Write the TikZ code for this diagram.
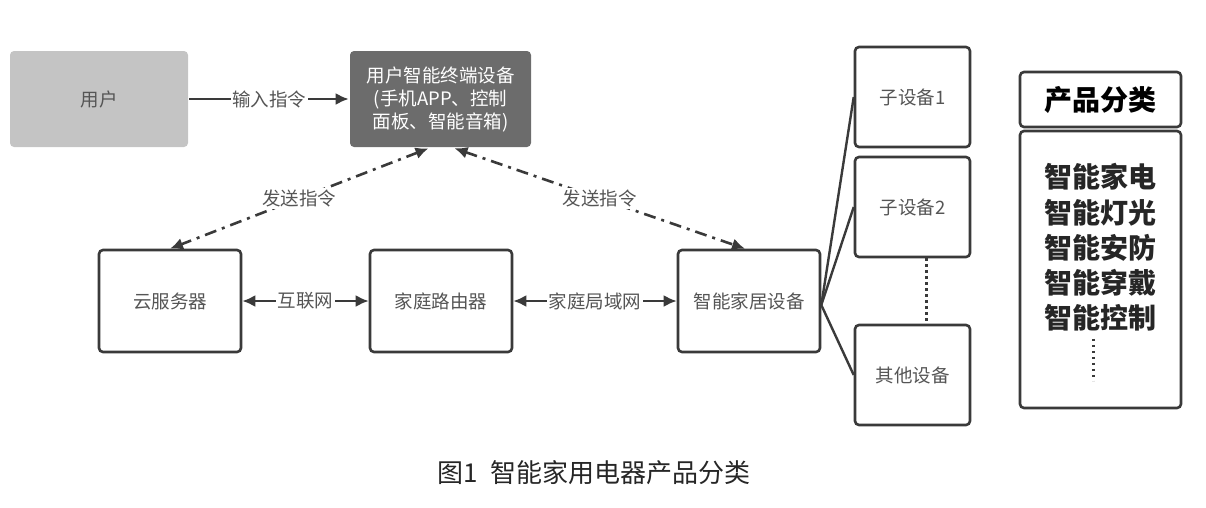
\documentclass[tikz,border=0pt]{standalone}
\usepackage{fontspec}
\setmainfont{Noto Sans CJK SC}
\usepackage{xcolor}
\usetikzlibrary{shapes,arrows,arrows.meta,positioning,calc}
\definecolor{boxline}{RGB}{58,58,58}
\definecolor{boxtext}{RGB}{85,85,85}
\definecolor{userfill}{RGB}{196,196,196}
\definecolor{termfill}{RGB}{108,108,108}

\tikzset{
    box/.style={draw=boxline, line width=2.6pt, rounded corners=4pt, fill=white,
        text=boxtext, inner sep=0pt, font=\fontsize{18.5}{23}\selectfont,
        minimum width=142pt, minimum height=102pt, align=center},
    subbox/.style={box, minimum width=115pt, minimum height=100pt},
    link/.style={line width=2.4pt, boxline},
    cmd/.style={link, line width=2.6pt, dash pattern=on 12pt off 6pt on 3pt off 6pt},
    dots/.style={link, line width=3pt, dash pattern=on 2.5pt off 3.5pt},
    tag/.style={fill=white, text=boxtext, inner sep=1.5pt, font=\fontsize{18.5}{22}\selectfont}
}

\begin{document}
\begin{tikzpicture}[x=1pt, y=-1pt, >={Latex[length=13pt,width=12pt]}]
    \useasboundingbox (0,0) rectangle (1206,507);

    % Top row: user and terminal
    \node[box, draw=none, fill=userfill, minimum width=178pt, minimum height=96pt] (user) at (99,99) {用户};
    \node[box, draw=none, fill=termfill, text=white, minimum width=181pt, minimum height=96pt] (terminal) at (440.5,99) {用户智能终端设备\\(手机APP、控制\\面板、智能音箱)};
    \draw[->, link] (user) -- node[tag] {输入指令} (terminal);

    % Middle row
    \node[box] (cloud) at (170,301) {云服务器};
    \node[box] (router) at (441,301) {家庭路由器};
    \node[box] (home) at (749,301) {智能家居设备};
    \draw[<->, link] (cloud) -- node[tag] {互联网} (router);
    \draw[<->, link] (router) -- node[tag] {家庭局域网} (home);

    % Commands sent from the terminal
    \draw[<->, cmd] ([xshift=-12pt]terminal.south) -- node[tag] {发送指令} (cloud.north);
    \draw[<->, cmd] ([xshift=14pt]terminal.south) -- node[tag] {发送指令} ([xshift=-4pt]home.north);

    % Sub devices
    \node[subbox] (sub1) at (912.5,97) {子设备1};
    \node[subbox] (sub2) at (912.5,207) {子设备2};
    \node[subbox] (other) at (912.5,375) {其他设备};
    \draw[link] ([yshift=-4pt]home.east) -- (sub1.west);
    \draw[link] ([yshift=-4pt]home.east) -- (sub2.west);
    \draw[link] ([yshift=-4pt]home.east) -- (other.west);
    \draw[dots] ([xshift=14pt]sub2.south) -- ([xshift=14pt]other.north);

    % Product categories
    \node[box, text=black, minimum width=161pt, minimum height=55pt, font=\bfseries\fontsize{28}{34}\selectfont] (cathead) at (1100.5,99.5) {产品分类};
    \node[box, minimum width=161pt, minimum height=277pt] (catbody) at (1100.5,269.5) {};
    \node[text=black!85, align=center, font=\bfseries\fontsize{28}{35.2}\selectfont] (catlist) at (1100,247.5) {智能家电\\智能灯光\\智能安防\\智能穿戴\\智能控制};
    \draw[dots] ([xshift=-7pt,yshift=-4pt]catlist.south) -- ([xshift=-7pt,yshift=-46pt]catlist.south);

    % Caption
    \node[text=black!85, font=\fontsize{26}{30}\selectfont] (caption) at (594,473) {图1\ \ 智能家用电器产品分类};
\end{tikzpicture}
\end{document}
